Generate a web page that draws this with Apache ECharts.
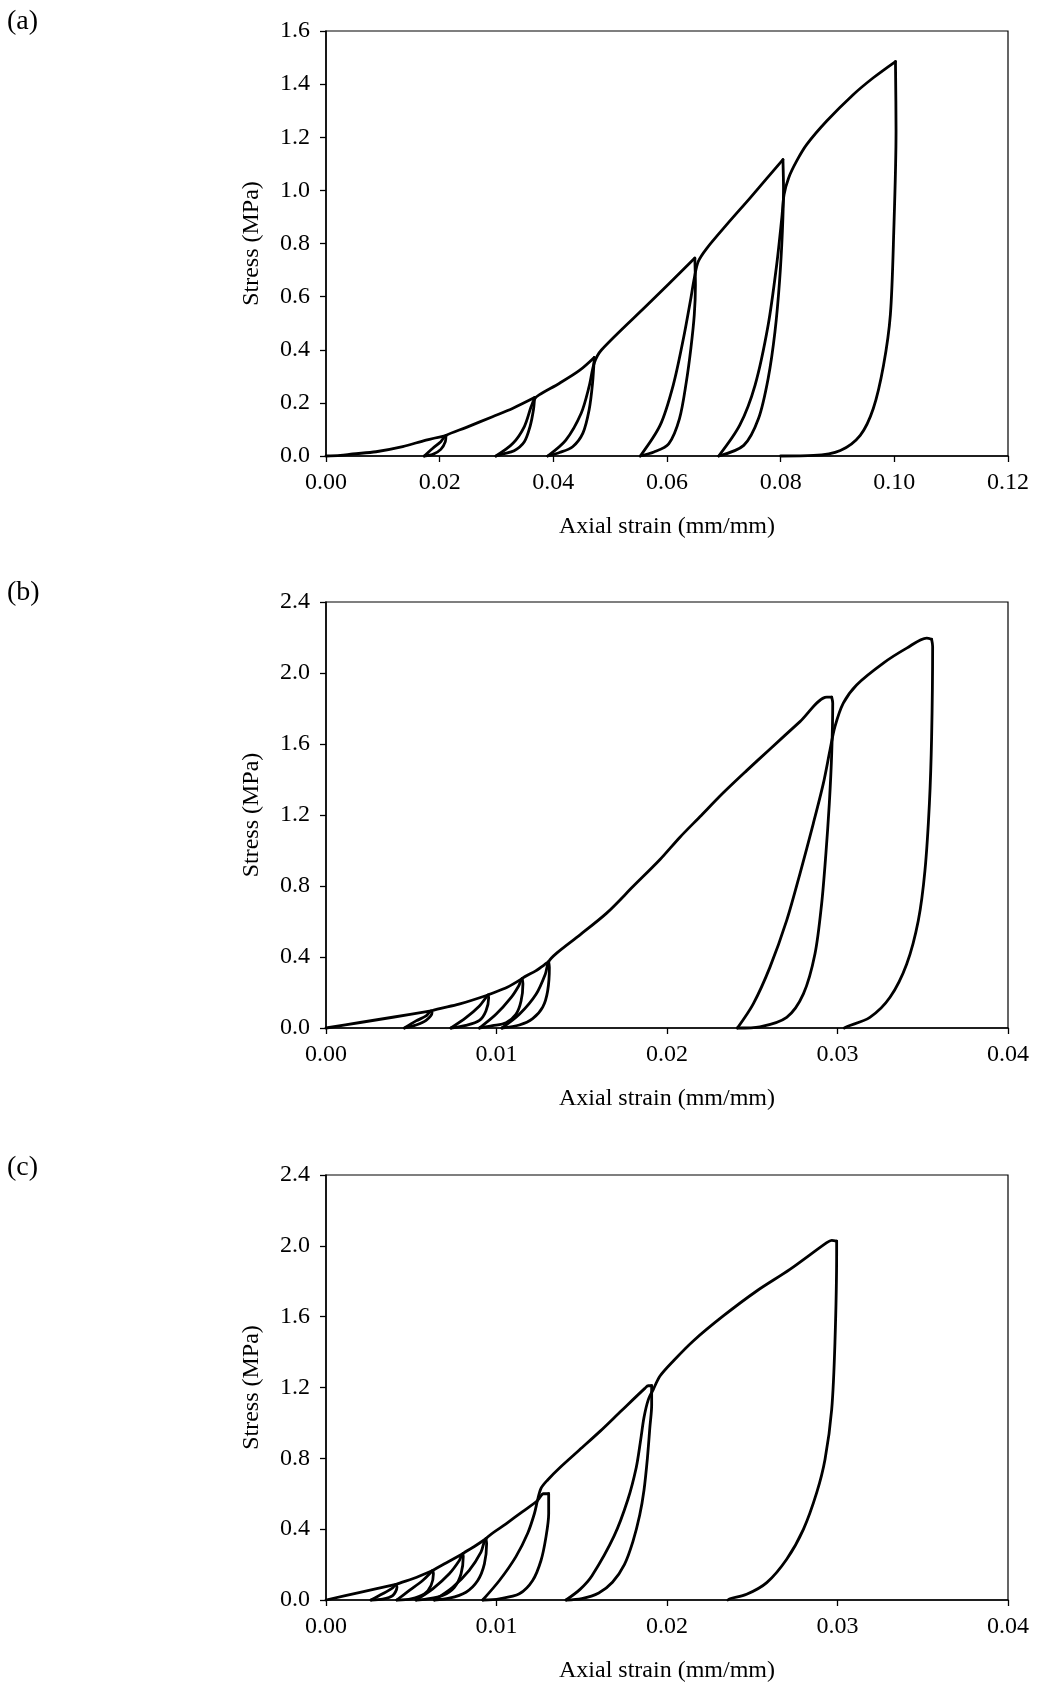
<!DOCTYPE html>
<html>
<head>
<meta charset="utf-8">
<script src="https://cdn.jsdelivr.net/npm/echarts@6/dist/echarts.min.js"></script>
<style>html,body{margin:0;padding:0;background:#fff}#chart{width:1037px;height:1687px}</style>
</head>
<body>
<div id="chart"></div>
<script>
// ---------- tick labels ----------
const aXLabels = ['0.00','0.02','0.04','0.06','0.08','0.10','0.12'];
const aYLabels = ['0.0','0.2','0.4','0.6','0.8','1.0','1.2','1.4','1.6'];
const bXLabels = ['0.00','0.01','0.02','0.03','0.04'];
const bYLabels = ['0.0','0.4','0.8','1.2','1.6','2.0','2.4'];
const cXLabels = ['0.00','0.01','0.02','0.03','0.04'];
const cYLabels = ['0.0','0.4','0.8','1.2','1.6','2.0','2.4'];
const panelLabels = ['(a)','(b)','(c)'];
const xName = 'Axial strain (mm/mm)';
const yName = 'Stress (MPa)';

// ---------- panel (a): [strain, stress] ----------
const aLoad = [[0,0],[0.0025,0.002],[0.0047,0.0075],[0.0088,0.016],[0.0135,0.035],[0.0176,0.060],[0.0211,0.077]];
const aUnload1 = [[0.0211,0.077],[0.0210,0.054],[0.0202,0.025],[0.0188,0.006],[0.0173,0]];
const aReload1 = [[0.0173,0],[0.0188,0.029],[0.0202,0.054],[0.0211,0.077],[0.0246,0.107],[0.0293,0.148],[0.0329,0.18],[0.0367,0.22]];
const aUnload2 = [[0.0367,0.22],[0.0365,0.174],[0.0359,0.111],[0.0349,0.054],[0.0331,0.02],[0.0311,0.0075],[0.0299,0]];
const aReload2 = [[0.0299,0],[0.0329,0.048],[0.0349,0.111],[0.0361,0.186],[0.0367,0.215],[0.0375,0.23],[0.0411,0.274],[0.0446,0.322],[0.0472,0.371]];
const aUnload3 = [[0.0472,0.371],[0.0469,0.274],[0.0463,0.174],[0.0452,0.086],[0.0434,0.035],[0.0411,0.013],[0.039,0]];
const aReload3 = [[0.039,0],[0.0422,0.06],[0.0449,0.161],[0.0463,0.262],[0.0472,0.35],[0.0485,0.4],[0.0567,0.572],[0.0649,0.745]];
const aUnload4 = [[0.0649,0.745],[0.065,0.644],[0.0648,0.531],[0.0642,0.405],[0.0634,0.279],[0.0622,0.141],[0.0603,0.046],[0.0577,0.015],[0.0553,0]];
const aReload4 = [[0.0553,0],[0.0588,0.116],[0.0611,0.267],[0.0629,0.443],[0.0642,0.594],[0.0648,0.669],[0.0655,0.732],[0.067,0.782],[0.0705,0.871],[0.0746,0.971],[0.0776,1.046],[0.0804,1.116]];
const aUnload5 = [[0.0804,1.116],[0.0805,1.009],[0.0803,0.845],[0.0798,0.657],[0.079,0.468],[0.0778,0.292],[0.0761,0.141],[0.0735,0.04],[0.0691,0]];
const aReload5 = [[0.0691,0],[0.0728,0.116],[0.0755,0.267],[0.0778,0.493],[0.0793,0.72],[0.0802,0.896],[0.0806,0.984],[0.0814,1.047],[0.0828,1.11],[0.0846,1.173],[0.0881,1.261],[0.0928,1.361],[0.0963,1.424],[0.1002,1.485]];
const aUnload6 = [[0.1002,1.485],[0.1003,1.223],[0.0999,0.845],[0.0993,0.531],[0.0981,0.342],[0.0963,0.179],[0.094,0.078],[0.0905,0.021],[0.0858,0.002],[0.08,0]];

// ---------- panel (b) ----------
const bLoad = [[0,0],[0.002,0.031],[0.004,0.062],[0.00616,0.096]];
const bUnload1 = [[0.00616,0.096],[0.00622,0.087],[0.00587,0.043],[0.00528,0.017],[0.0046,0]];
const bReload1 = [[0.0046,0],[0.00528,0.04],[0.00587,0.068],[0.00616,0.096],[0.0078,0.134],[0.0095,0.186]];
const bUnload2 = [[0.0095,0.186],[0.00954,0.171],[0.00938,0.096],[0.009,0.043],[0.00821,0.015],[0.00733,0]];
const bReload2 = [[0.00733,0],[0.00821,0.058],[0.009,0.124],[0.00938,0.171],[0.0095,0.186],[0.0106,0.228],[0.0115,0.278]];
const bUnload3 = [[0.0115,0.278],[0.01155,0.25],[0.01144,0.152],[0.01114,0.077],[0.01056,0.03],[0.00977,0.013],[0.009,0]];
const bReload3 = [[0.009,0],[0.00997,0.077],[0.01085,0.171],[0.0113,0.237],[0.0115,0.278],[0.0123,0.322],[0.01306,0.374]];
const bUnload4 = [[0.01306,0.374],[0.0131,0.341],[0.013,0.209],[0.01271,0.118],[0.01212,0.053],[0.01134,0.017],[0.01032,0]];
const bReload4 = [[0.01032,0],[0.01134,0.077],[0.01232,0.19],[0.01286,0.303],[0.01306,0.374],[0.01353,0.422],[0.0149,0.525],[0.01646,0.647],[0.01802,0.798],[0.01959,0.949],[0.02076,1.075],[0.02193,1.19],[0.0233,1.325],[0.02467,1.45],[0.026,1.568],[0.0278,1.726],[0.02937,1.864],[0.02966,1.864]];
const bUnload5 = [[0.02966,1.864],[0.02972,1.83],[0.02966,1.547],[0.02952,1.265],[0.02932,0.983],[0.02907,0.7],[0.02868,0.418],[0.028,0.192],[0.02702,0.06],[0.02545,0.007],[0.02413,0]];
const bReload5 = [[0.02413,0],[0.02506,0.136],[0.02604,0.343],[0.02702,0.606],[0.0278,0.87],[0.02858,1.152],[0.02917,1.378],[0.02956,1.566],[0.02985,1.698],[0.03034,1.83],[0.03112,1.933],[0.03269,2.056],[0.03406,2.14],[0.03523,2.197],[0.03552,2.19]];
const bUnload6 = [[0.03552,2.19],[0.03558,2.15],[0.03552,1.64],[0.03539,1.265],[0.03513,0.888],[0.03474,0.606],[0.03406,0.361],[0.03308,0.173],[0.0319,0.06],[0.03054,0.007],[0.0304,0]];

// ---------- panel (c) ----------
const cLoad = [[0,0],[0.002,0.043],[0.0041,0.088]];
const cUnload1 = [[0.0041,0.088],[0.00416,0.072],[0.00391,0.025],[0.00332,0.005],[0.00264,0]];
const cReload1 = [[0.00264,0],[0.00332,0.035],[0.00391,0.069],[0.0041,0.088],[0.00508,0.12],[0.00626,0.167]];
const cUnload2 = [[0.00626,0.167],[0.0063,0.148],[0.00616,0.082],[0.00577,0.035],[0.00499,0.007],[0.00415,0]];
const cReload2 = [[0.00415,0],[0.00489,0.054],[0.00567,0.11],[0.00616,0.157],[0.00626,0.167],[0.00704,0.209],[0.00802,0.261]];
const cUnload3 = [[0.00802,0.261],[0.00805,0.245],[0.00792,0.148],[0.00753,0.072],[0.00684,0.025],[0.00587,0.005],[0.00528,0]];
const cReload3 = [[0.00528,0],[0.00626,0.063],[0.00723,0.148],[0.00782,0.223],[0.00802,0.261],[0.0087,0.302],[0.00938,0.346]];
const cUnload4 = [[0.00938,0.346],[0.00942,0.317],[0.00929,0.204],[0.0089,0.11],[0.00821,0.044],[0.00723,0.01],[0.00635,0]];
const cReload4 = [[0.00635,0],[0.00743,0.072],[0.0084,0.167],[0.00909,0.27],[0.00938,0.346],[0.01056,0.43],[0.01153,0.499],[0.01241,0.562],[0.01275,0.6],[0.01306,0.6]];
const cUnload5 = [[0.01306,0.6],[0.01306,0.487],[0.0129,0.355],[0.01261,0.223],[0.01212,0.11],[0.01134,0.035],[0.01017,0.007],[0.00919,0]];
const cReload5 = [[0.00919,0],[0.01017,0.11],[0.01114,0.245],[0.01183,0.377],[0.01222,0.487],[0.01241,0.565],[0.01261,0.631],[0.013,0.678],[0.01368,0.744],[0.01486,0.847],[0.0161,0.955],[0.01734,1.07],[0.0187,1.195],[0.0189,1.21],[0.0191,1.21]];
const cUnload6 = [[0.0191,1.21],[0.0191,1.1],[0.019,0.98],[0.01885,0.8],[0.01865,0.62],[0.0184,0.48],[0.018,0.33],[0.0175,0.2],[0.0168,0.1],[0.016,0.04],[0.015,0.008],[0.01408,0]];
const cReload6 = [[0.01408,0],[0.0149,0.06],[0.0156,0.137],[0.0169,0.362],[0.0177,0.566],[0.0182,0.75],[0.01845,0.9],[0.01865,1.03],[0.0189,1.13],[0.0192,1.19],[0.01959,1.265],[0.02037,1.35],[0.02154,1.463],[0.0233,1.604],[0.02526,1.745],[0.02721,1.867],[0.02937,2.018],[0.02966,2.031],[0.02995,2.027]];
const cUnload7 = [[0.02995,2.027],[0.02995,1.961],[0.02985,1.453],[0.02966,1.077],[0.02927,0.795],[0.02878,0.606],[0.028,0.399],[0.02702,0.23],[0.02585,0.098],[0.02467,0.032],[0.02369,0.007],[0.02357,0]];

const panelA = [aLoad,aUnload1,aReload1,aUnload2,aReload2,aUnload3,aReload3,aUnload4,aReload4,aUnload5,aReload5,aUnload6];
const panelB = [bLoad,bUnload1,bReload1,bUnload2,bReload2,bUnload3,bReload3,bUnload4,bReload4,bUnload5,bReload5,bUnload6];
const panelC = [cLoad,cUnload1,cReload1,cUnload2,cReload2,cUnload3,cReload3,cUnload4,cReload4,cUnload5,cReload5,cUnload6,cReload6,cUnload7];

// ---------- layout ----------
const FONT = '"Liberation Serif", "Times New Roman", serif';
const FS = 24;
const grids = [
  {left:326, top:31, width:682, height:425},
  {left:326, top:602, width:682, height:426},
  {left:326, top:1175, width:682, height:425}
];
const xCfg = [{max:0.12, interval:0.02, labels:aXLabels},{max:0.04, interval:0.01, labels:bXLabels},{max:0.04, interval:0.01, labels:cXLabels}];
const yCfg = [{max:1.6, interval:0.2, labels:aYLabels},{max:2.4, interval:0.4, labels:bYLabels},{max:2.4, interval:0.4, labels:cYLabels}];
const labelTops = [8, 579, 1154];

function axisCommon(){
  return {
    type:'value', min:0,
    axisLine:{show:true, onZero:false, lineStyle:{color:'#000', width:1.5}},
    axisTick:{show:true, inside:false, length:6, lineStyle:{color:'#000', width:1.3}},
    splitLine:{show:false},
    nameTextStyle:{fontFamily:FONT, fontSize:FS, color:'#000'}
  };
}

const option = {
  animation:false,
  backgroundColor:'#fff',
  grid: grids.map(g => Object.assign({show:true, borderColor:'#000', borderWidth:1.2, containLabel:false, outerBoundsMode:'none'}, g)),
  xAxis: xCfg.map((c,i) => Object.assign(axisCommon(), {
    gridIndex:i, max:c.max, interval:c.interval,
    name:xName, nameLocation:'middle', nameGap:59,
    axisLabel:{fontFamily:FONT, fontSize:FS, color:'#000', margin:15, showMinLabel:true, showMaxLabel:true, hideOverlap:false,
      formatter:(v)=>c.labels[Math.round(v/c.interval)]}
  })),
  yAxis: yCfg.map((c,i) => Object.assign(axisCommon(), {
    gridIndex:i, max:c.max, interval:c.interval,
    name:yName, nameLocation:'middle', nameGap:62, nameRotate:90,
    axisLabel:{fontFamily:FONT, fontSize:FS, color:'#000', margin:16, showMinLabel:true, showMaxLabel:true, hideOverlap:false,
      formatter:(v)=>c.labels[Math.round(v/c.interval)]}
  })),
  graphic: panelLabels.map((t,i) => ({type:'text', left:7, top:labelTops[i], style:{text:t, fontFamily:FONT, fontSize:28, fill:'#000'}})),
  series: []
};

[panelA, panelB, panelC].forEach((segs, p) => {
  segs.forEach(seg => {
    option.series.push({
      type:'line', xAxisIndex:p, yAxisIndex:p, data:seg,
      showSymbol:false, symbol:'none', smooth:0.3, clip:false,
      lineStyle:{color:'#000', width:2.8, join:'round', cap:'round'},
      silent:true, z:3
    });
  });
});

const chart = echarts.init(document.getElementById('chart'), null, {renderer:'canvas'});
chart.setOption(option);
</script>
</body>
</html>
